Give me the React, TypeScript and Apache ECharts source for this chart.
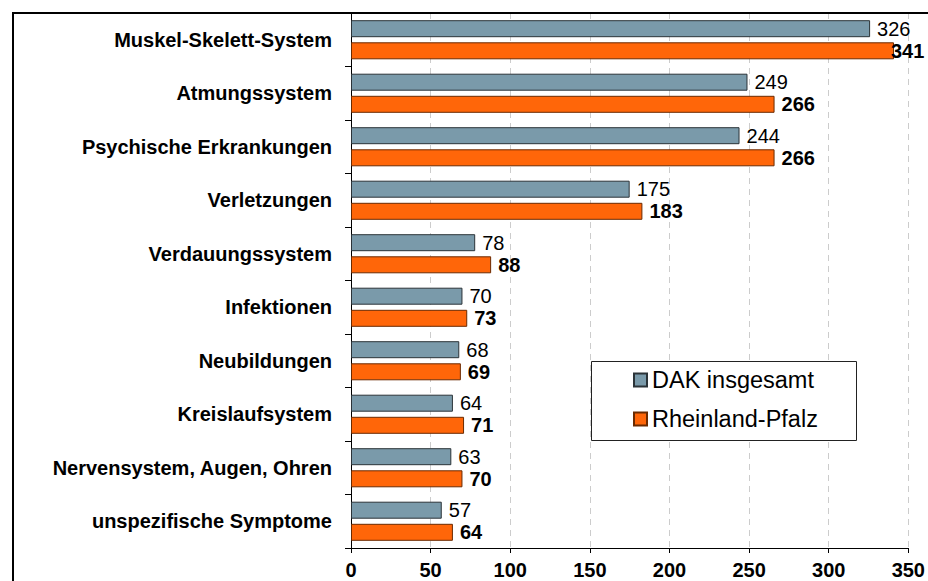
import React, { useEffect, useRef } from "react";
import * as echarts from "echarts";

const categories = [
  "Muskel-Skelett-System",
  "Atmungssystem",
  "Psychische Erkrankungen",
  "Verletzungen",
  "Verdauungssystem",
  "Infektionen",
  "Neubildungen",
  "Kreislaufsystem",
  "Nervensystem, Augen, Ohren",
  "unspezifische Symptome",
];
const dakValues = [326, 249, 244, 175, 78, 70, 68, 64, 63, 57];
const rlpValues = [341, 266, 266, 183, 88, 73, 69, 71, 70, 64];
const seriesNames = ["DAK insgesamt", "Rheinland-Pfalz"];
const xTicks = { min: 0, max: 350, interval: 50 };

const FONT = "'Liberation Sans', Arial, Helvetica, sans-serif";

export default function App() {
  const ref = useRef<HTMLDivElement>(null);
  useEffect(() => {
    if (!ref.current) return;
    const chart = echarts.init(ref.current, undefined, { renderer: "svg" });
    const fitLabel = (v: number) => ({
      value: v,
      label: v > 335 ? { distance: -3 } : {},
    });
    chart.setOption({
      animation: false,
      backgroundColor: "#ffffff",
      textStyle: { fontFamily: FONT },
      grid: { left: 351, right: 19, top: 13, bottom: 33, containLabel: false },
      xAxis: {
        type: "value",
        min: xTicks.min,
        max: xTicks.max,
        interval: xTicks.interval,
        axisLine: { show: true, lineStyle: { color: "#000", width: 1 } },
        axisTick: { show: true, length: 5, lineStyle: { color: "#000" } },
        axisLabel: {
          color: "#000",
          fontWeight: "bold",
          fontSize: 20,
          fontFamily: FONT,
          margin: 12,
        },
        splitLine: {
          show: true,
          lineStyle: { color: "#cccccc", type: [6, 5], width: 1 },
        },
      },
      yAxis: {
        type: "category",
        inverse: true,
        data: categories,
        axisLine: { show: true, lineStyle: { color: "#000", width: 1 } },
        axisTick: { show: true, length: 6, lineStyle: { color: "#000" } },
        axisLabel: {
          color: "#000",
          fontWeight: "bold",
          fontSize: 20,
          fontFamily: FONT,
          margin: 19,
        },
        splitLine: { show: false },
      },
      legend: {
        orient: "vertical",
        left: 633,
        top: 367,
        padding: 0,
        icon: "rect",
        itemWidth: 13,
        itemHeight: 13,
        itemGap: 13,
        z: 10,
        textStyle: {
          fontSize: 23.5,
          lineHeight: 26,
          color: "#000",
          fontFamily: FONT,
        },
        data: seriesNames,
      },
      graphic: [
        {
          type: "rect",
          z: 100,
          silent: true,
          shape: { x: 13, y: 13, width: 1200, height: 1200 },
          style: { fill: "none", stroke: "#000", lineWidth: 2 },
        },
        {
          type: "rect",
          z: 5,
          silent: true,
          shape: { x: 591.5, y: 361.5, width: 265, height: 79 },
          style: { fill: "#fff", stroke: "#222", lineWidth: 1 },
        },
      ],
      series: [
        {
          name: seriesNames[0],
          type: "bar",
          barWidth: 17,
          barGap: "30%",
          data: dakValues.map(fitLabel),
          itemStyle: { color: "#7a9aaa", borderColor: "#2b3338", borderWidth: 1 },
          label: {
            show: true,
            position: "right",
            distance: 7,
            color: "#000",
            fontSize: 20,
            fontFamily: FONT,
          },
        },
        {
          name: seriesNames[1],
          type: "bar",
          barWidth: 17,
          barGap: "30%",
          data: rlpValues.map(fitLabel),
          itemStyle: { color: "#ff6609", borderColor: "#6b2a00", borderWidth: 1 },
          label: {
            show: true,
            position: "right",
            distance: 7,
            color: "#000",
            fontWeight: "bold",
            fontSize: 20,
            fontFamily: FONT,
          },
        },
      ],
    });
    return () => chart.dispose();
  }, []);
  return (
    <div
      ref={ref}
      style={{ position: "fixed", left: 0, top: 0, width: 928, height: 581 }}
    />
  );
}
